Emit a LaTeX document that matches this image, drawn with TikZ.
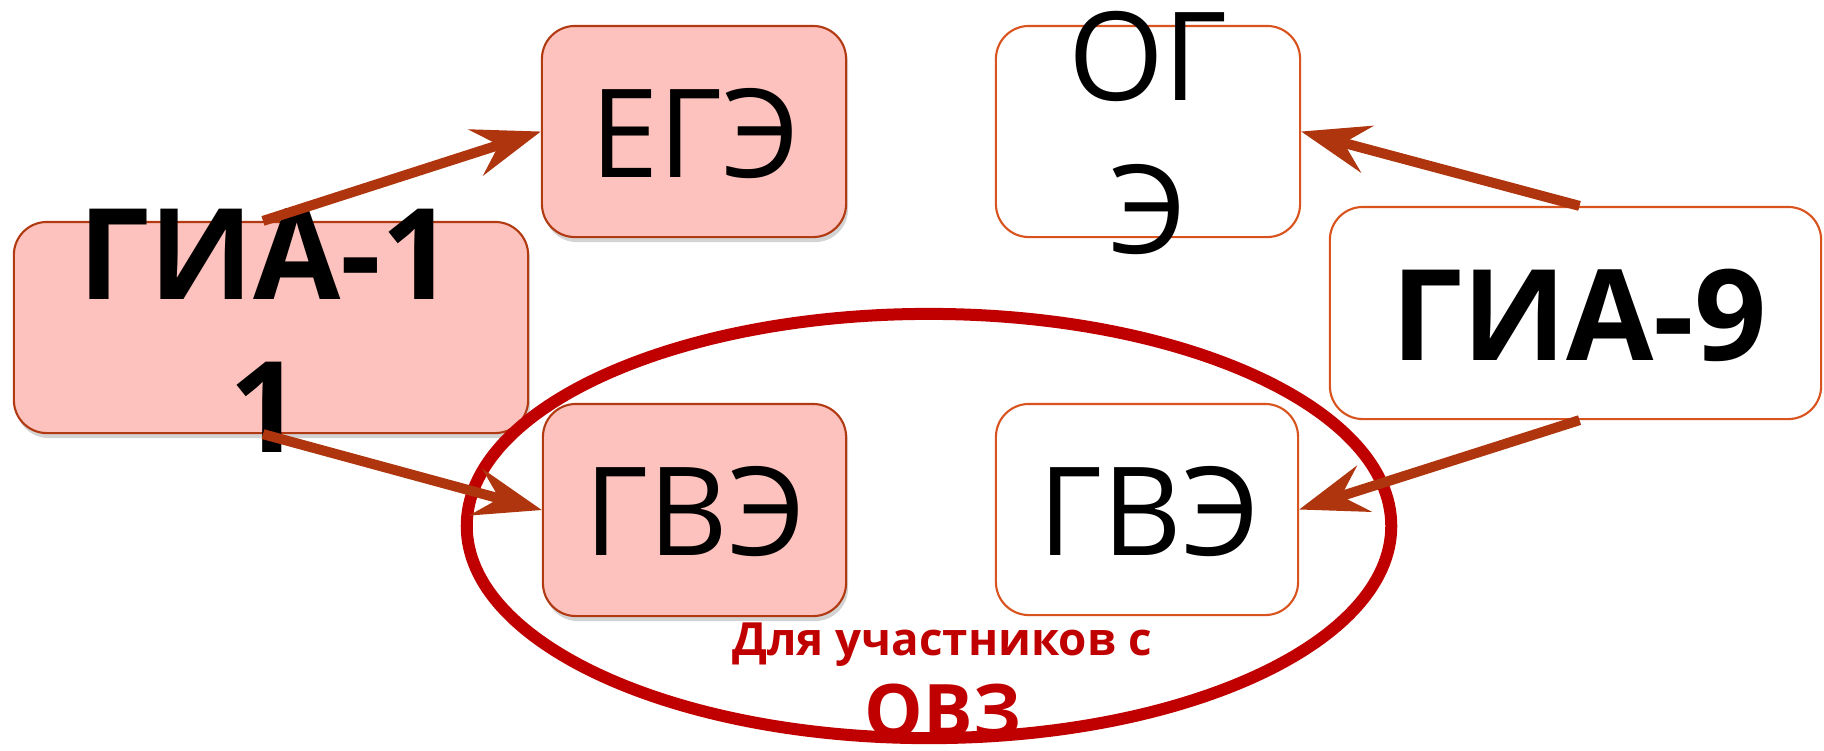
\documentclass[tikz,border=0pt]{standalone}
\usepackage{fontspec}
\setmainfont{Open Sans}
\usetikzlibrary{arrows.meta,shadows}
\definecolor{boxpink}{RGB}{253,194,189}
\definecolor{boxedge}{RGB}{178,58,18}
\definecolor{whiteedge}{RGB}{217,83,30}
\definecolor{arrowbrown}{RGB}{174,53,14}
\definecolor{ovzred}{RGB}{192,0,0}
\begin{document}
\begin{tikzpicture}[x=0.01cm,y=-0.01cm,
    pinkbox/.style={draw=boxedge,fill=boxpink,line width=0.6pt,rounded corners=0.33cm,inner sep=0pt,
      drop shadow={shadow xshift=0.02cm,shadow yshift=-0.05cm,opacity=0.35}},
    whitebox/.style={draw=whiteedge,fill=white,line width=0.6pt,rounded corners=0.33cm,inner sep=0pt},
    examtext/.style={font=\fontsize{35}{43.5}\selectfont,align=center,inner sep=0pt},
    gia/.style={examtext,font=\fontsize{36}{43.5}\selectfont\bfseries},
    ovztext/.style={text=ovzred,font=\bfseries,inner sep=0pt,anchor=base},
    examarrow/.style={draw=arrowbrown,line width=0.1cm,-{Stealth[length=0.68cm,width=0.48cm,inset=0.24cm]}}]
                \useasboundingbox (0,0) rectangle (1824,750);

                % Drawing boxes
                \draw (271,327.5) node [pinkbox,minimum width=5.14cm,minimum height=2.11cm] (gia11) {};%
                \draw (694,131.5) node [pinkbox,minimum width=3.04cm,minimum height=2.11cm] (ege) {};%
                \draw (694.5,510) node [pinkbox,minimum width=3.03cm,minimum height=2.12cm] (gveA) {};%
                \draw (1148,131.5) node [whitebox,minimum width=3.04cm,minimum height=2.11cm] (oge) {};%
                \draw (1147,509.5) node [whitebox,minimum width=3.02cm,minimum height=2.11cm] (gveB) {};%
                \draw (1575.5,313) node [whitebox,minimum width=4.91cm,minimum height=2.12cm] (gia9) {};%

                % Marking box texts
                \draw (266,330.5) node [gia] (gia11text) {ГИА-1\\1};%
                \draw (695,134) node [examtext] (egetext) {ЕГЭ};%
                \draw (695,512) node [examtext] (gveAtext) {ГВЭ};%
                \draw (1148,132.5) node [examtext] (ogetext) {ОГ\\Э};%
                \draw (1149,512) node [examtext] (gveBtext) {ГВЭ};%
                \draw (1579,315) node [gia] (gia9text) {ГИА-9};%

                % Drawing ellipse OVZ
                \draw [ovzred,line width=0.12cm] (929,526) ellipse [x radius=4.62cm,y radius=2.12cm];%

                % Drawing arrows
                \draw [examarrow] ([xshift=-0.08cm]gia11.north) -- (ege.west);%
                \draw [examarrow] ([xshift=-0.08cm]gia11.south) -- (gveA.west);%
                \draw [examarrow] ([xshift=0.04cm]gia9.north) -- (oge.east);%
                \draw [examarrow] ([xshift=0.04cm]gia9.south) -- (gveB.east);%

                % Marking OVZ texts
                \draw (942,655) node [ovztext,font=\fontsize{13}{16}\selectfont\bfseries] (ovzline) {Для участников с};%
                \draw (943,737) node [ovztext,font=\fontsize{21}{25}\selectfont\bfseries] (ovz) {ОВЗ};%
\end{tikzpicture}
\end{document}
